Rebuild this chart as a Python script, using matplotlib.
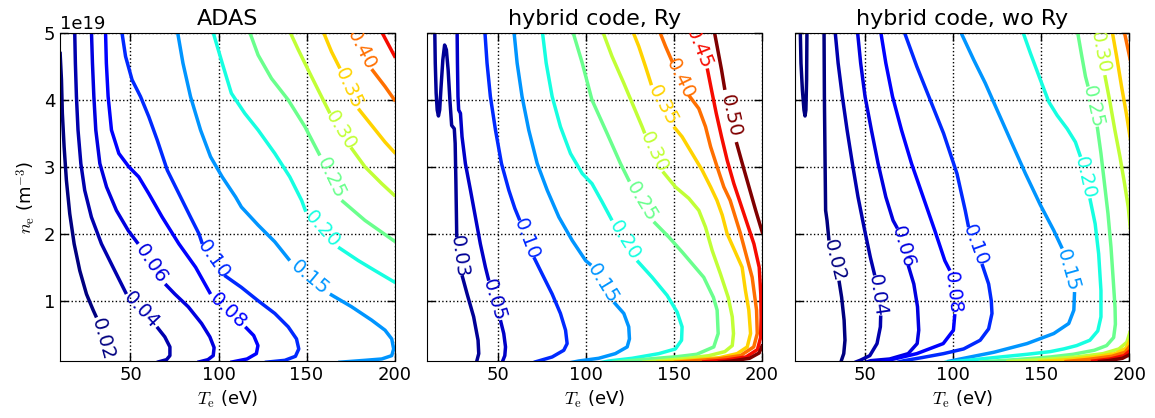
import numpy as np
import matplotlib
matplotlib.use("Agg")
from matplotlib import pyplot as plt
from matplotlib import colors

plt.rcParams['mathtext.fontset'] = 'cm'
plt.rcParams['font.family'] = 'DejaVu Sans'

nan = np.nan
NE_UNIT = 1e19

# traced contour lines, Te in eV, ne in 1e19 m^-3 (nan = gap for the inline label)

# --- ADAS ---
a02_te = [10.0, 10.8, 11.3, 12.3, 13.6, 15.5, 18.0, 21.2, 25.0, 28.8, 30.7, nan, 37.7]
a02_ne = [4.72, 4.30, 3.80, 3.30, 2.80, 2.30, 1.85, 1.45, 1.10, 0.86, 0.75, nan, 0.09]
a04_te = [18.3, 18.7, 19.3, 20.2, 21.8, 24.0, 27.8, 33.5, 40.1, 47.7, nan, 65.0, 69.5, 72.4, 72.4, 70.5, 65.0]
a04_ne = [5.05, 4.55, 4.05, 3.55, 3.05, 2.65, 2.25, 1.85, 1.50, 1.10, nan, 0.61, 0.46, 0.31, 0.18, 0.12, 0.08]
a06_te = [27.8, 28.4, 29.2, 30.3, 32.6, 36.4, 42.0, 48.7, 54.4, nan, 69.7, 75.2, 82.8, 90.4, 95.1, 97.5, 97.0, 94.0, 88.0]
a06_ne = [5.05, 4.55, 4.05, 3.55, 3.05, 2.70, 2.35, 2.05, 1.85, nan, 1.25, 1.10, 0.91, 0.66, 0.46, 0.30, 0.18, 0.12, 0.08]
a08_te = [35.8, 36.3, 37.3, 39.2, 43.4, 49.1, 54.7, 60.4, 68.0, 77.5, 87.0, 95.5, nan, 115.2, 120.0, 122.4, 121.5, 116.2, 106.7]
a08_ne = [5.05, 4.55, 4.05, 3.55, 3.20, 3.00, 2.85, 2.60, 2.25, 1.85, 1.50, 1.10, nan, 0.61, 0.48, 0.33, 0.21, 0.13, 0.08]
a10_te = [44.9, 47.2, 50.9, 55.7, 60.4, 65.2, 70.9, 77.5, 84.1, 88.9, 90.8, nan, 103.3, 113.0, 122.5, 132.0, 139.6, 144.3, 145.6, 143.7, 137.7, 126.3]
a10_ne = [5.05, 4.65, 4.30, 4.05, 3.75, 3.40, 2.95, 2.60, 2.25, 2.00, 1.85, nan, 1.38, 1.20, 1.00, 0.81, 0.61, 0.43, 0.28, 0.17, 0.11, 0.08]
a15_te = [76.5, 79.8, 84.1, 89.8, 95.5, 102.1, 109.7, 113.0, 122.5, 132.0, 140.5, nan, 163.3, 175.6, 187.0, 194.6, 198.4, 199.5, 198.4, 192.7, 183.2, 168.0]
a15_ne = [5.05, 4.55, 4.05, 3.55, 3.15, 2.85, 2.55, 2.40, 2.13, 1.88, 1.60, nan, 1.10, 0.91, 0.71, 0.56, 0.43, 0.28, 0.18, 0.13, 0.11, 0.08]
a20_te = [96.5, 102.1, 107.3, 114.9, 122.5, 132.0, 140.5, 147.2, 149.6, nan, 168.0, 179.4, 188.9, 200.5]
a20_ne = [5.05, 4.55, 4.10, 3.80, 3.55, 3.20, 2.85, 2.50, 2.33, nan, 1.80, 1.60, 1.45, 1.27]
a25_te = [117.2, 122.5, 130.1, 139.6, 149.1, 157.6, nan, 169.9, 183.2, 200.5]
a25_ne = [5.05, 4.67, 4.32, 4.00, 3.60, 3.17, nan, 2.50, 2.20, 1.88]
a30_te = [140.0, 145.3, 152.8, 160.4, 163.3, nan, 175.2, 183.2, 192.7, 200.5]
a30_ne = [5.05, 4.75, 4.35, 3.95, 3.80, nan, 3.29, 3.00, 2.75, 2.56]
a35_te = [159.0, 164.2, 169.0, nan, 179.4, 187.0, 194.6, 200.5]
a35_ne = [5.05, 4.72, 4.47, nan, 3.87, 3.62, 3.37, 3.20]
a40_te = [175.5, nan, 187.0, 194.6, 200.5]
a40_ne = [5.05, nan, 4.46, 4.20, 3.98]
a45_te = [192.0, 200.5]
a45_ne = [5.05, 4.63]

# --- hybrid code, Ry ---
r03_te = [14.2, 14.5, 15.0, 15.6, 16.3, 17.0, 17.8, 18.8, 19.8, 20.8, 21.8, 22.8, 23.8, 25.3, 25.8, 26.2, 26.5, 26.7, nan, 29.7, 32.6, 36.3, 38.8, 39.2, 37.9]
r03_ne = [5.05, 4.55, 4.10, 3.85, 3.76, 3.85, 4.20, 4.60, 4.82, 4.75, 4.45, 4.00, 3.62, 3.57, 3.35, 2.80, 2.30, 1.95, nan, 1.38, 1.10, 0.76, 0.41, 0.21, 0.08]
r05_te = [26.9, 27.1, 27.4, 27.8, 28.8, 29.7, 31.6, 34.5, 37.3, 40.1, 43.0, 44.9, nan, 51.5, 53.4, 54.4, 54.0, 52.5]
r05_ne = [5.05, 4.55, 4.05, 3.85, 3.80, 3.45, 3.05, 2.65, 2.25, 1.85, 1.50, 1.30, nan, 0.71, 0.51, 0.31, 0.18, 0.08]
r10_te = [42.6, 43.9, 45.8, 48.7, 52.1, 56.3, 59.7, 62.5, nan, 70.5, 75.2, 80.9, 85.6, 88.5, 89.4, 87.5, 80.9, 70.5]
r10_ne = [5.05, 4.55, 4.05, 3.55, 3.05, 2.65, 2.38, 2.20, nan, 1.65, 1.40, 1.10, 0.81, 0.56, 0.36, 0.26, 0.16, 0.08]
r15_te = [59.1, 61.0, 63.8, 67.6, 72.4, 78.1, 84.7, 92.3, 99.9, 103.1, nan, 115.9, 121.6, 124.4, 124.8, 123.5, 116.8, 107.3, 96.0, 90.3]
r15_ne = [5.05, 4.55, 4.05, 3.55, 3.05, 2.65, 2.25, 1.90, 1.60, 1.53, nan, 0.98, 0.81, 0.61, 0.43, 0.31, 0.21, 0.14, 0.10, 0.07]
r20_te = [75.2, 77.5, 80.9, 85.6, 91.3, 98.0, 103.5, 109.2, 114.9, nan, 129.1, 137.7, 146.2, 151.9, 154.7, 154.4, 150.9, 141.5, 126.3, 113.0, 107.3]
r20_ne = [5.05, 4.55, 4.05, 3.60, 3.20, 2.90, 2.75, 2.48, 2.20, nan, 1.60, 1.35, 1.08, 0.83, 0.61, 0.41, 0.28, 0.21, 0.14, 0.10, 0.07]
r25_te = [92.3, 98.0, 103.5, 112.1, 119.7, 124.8, nan, 138.6, 147.2, 155.0, 167.0, 172.5, 174.6, 175.2, 172.7, 163.0, 152.0, 138.0, 125.0, 115.0]
r25_ne = [5.05, 4.55, 4.00, 3.50, 3.05, 2.78, nan, 2.18, 1.95, 1.72, 1.35, 1.05, 0.86, 0.51, 0.31, 0.20, 0.165, 0.135, 0.105, 0.08]
r30_te = [109.2, 114.9, 121.6, 127.2, 132.0, 133.5, nan, 143.7, 150.9, 158.5, 164.2, 168.0, 171.8, 176.5, 180.9, 183.2, 183.9, 183.2, 179.0, 170.0, 158.0, 145.0, 132.0]
r30_ne = [5.05, 4.65, 4.25, 3.90, 3.60, 3.50, nan, 2.93, 2.70, 2.53, 2.35, 2.10, 1.75, 1.40, 1.05, 0.76, 0.51, 0.33, 0.24, 0.18, 0.14, 0.11, 0.08]
r35_te = [126.3, 130.1, 133.9, 137.3, nan, 150.0, 154.7, 160.4, 166.1, 170.9, 174.5, 177.5, 180.3, 188.8, 190.7, 192.6, 193.6, 191.7, 186.0, 176.0, 163.0, 150.0, 140.0]
r35_ne = [5.05, 4.80, 4.50, 4.22, nan, 3.60, 3.45, 3.20, 2.95, 2.70, 2.50, 2.28, 2.00, 1.50, 1.15, 0.86, 0.51, 0.31, 0.21, 0.15, 0.12, 0.095, 0.08]
r40_te = [141.5, 145.3, 149.1, nan, 158.5, 164.2, 168.0, 170.9, 174.6, 178.4, 182.0, 187.9, 194.5, 197.0, 197.4, 195.4, 187.9, 175.0, 160.0, 150.0]
r40_ne = [5.05, 4.80, 4.57, nan, 4.07, 3.87, 3.60, 3.30, 3.00, 2.70, 2.50, 2.00, 1.35, 0.86, 0.51, 0.31, 0.18, 0.13, 0.10, 0.08]
r45_te = [159.5, nan, 169.0, 171.4, 174.1, 177.1, 180.3, 184.1, 187.9, 191.7, 195.5, 198.5, 199.4, 199.6, 199.3, 197.5, 191.0, 180.0, 166.0]
r45_ne = [5.09, nan, 4.47, 4.15, 3.80, 3.45, 3.10, 2.75, 2.45, 2.15, 1.85, 1.50, 1.10, 0.75, 0.45, 0.27, 0.16, 0.115, 0.085]
r50_te = [172.8, 174.6, 177.1, 179.0, nan, 185.5, 188.9, 192.7, 196.5, 200.5]
r50_ne = [5.05, 4.80, 4.45, 4.15, nan, 3.37, 3.05, 2.70, 2.35, 2.00]
r50b_te = [200.5, 198.5, 193.0, 183.0, 175.0]
r50b_ne = [0.35, 0.22, 0.14, 0.10, 0.08]

# --- hybrid code, wo Ry ---
w02a_te = [13.0, 13.4, 14.2, 15.1, 15.7, 16.2, 16.6, 16.8]
w02a_ne = [5.05, 4.55, 4.15, 3.85, 3.76, 3.85, 4.30, 5.05]
w02_te = [26.5, 26.7, 27.1, 27.4, 28.2, 29.3, nan, 35.0, 36.5, 37.9, 38.4, 37.7, 36.0]
w02_ne = [5.05, 4.05, 3.05, 2.35, 2.20, 1.90, nan, 1.30, 1.05, 0.71, 0.41, 0.21, 0.08]
w04_te = [32.7, 34.5, 36.9, 39.6, 42.6, 45.8, 49.6, 52.8, 55.3, nan, 58.7, 58.5, 56.6, 52.5, 47.0, 44.0]
w04_ne = [5.05, 4.55, 4.05, 3.55, 3.05, 2.55, 2.05, 1.65, 1.38, nan, 0.78, 0.61, 0.36, 0.18, 0.11, 0.08]
w06_te = [45.4, 47.3, 49.8, 53.4, 57.2, 61.6, 65.7, 68.2, nan, 74.3, 77.5, 79.6, 80.3, 79.4, 74.3, 63.8, 53.0, 50.0]
w06_ne = [5.05, 4.55, 4.05, 3.55, 3.05, 2.55, 2.20, 2.08, nan, 1.53, 1.25, 0.91, 0.56, 0.36, 0.21, 0.13, 0.105, 0.08]
w08_te = [58.5, 61.6, 65.4, 70.5, 76.2, 82.8, 89.4, 95.1, 98.0, nan, 100.8, 100.0, 94.2, 79.2, 68.0, 62.0, 59.0]
w08_ne = [5.05, 4.55, 4.05, 3.55, 3.05, 2.55, 2.05, 1.60, 1.45, nan, 0.80, 0.56, 0.36, 0.21, 0.14, 0.105, 0.08]
w10_te = [71.6, 79.2, 86.8, 94.4, 102.0, 106.7, 108.6, nan, 116.2, 120.0, 121.5, 121.9, 120.0, 115.2, 105.8, 94.4, 82.0, 72.0, 68.0]
w10_ne = [5.05, 4.50, 4.00, 3.50, 2.90, 2.35, 2.10, nan, 1.55, 1.25, 1.00, 0.81, 0.58, 0.41, 0.28, 0.21, 0.15, 0.105, 0.08]
w15_te = [103.5, 111.5, 118.1, 124.8, 132.4, 140.9, 149.4, 157.0, 161.8, nan, 168.8, 168.4, 165.5, 157.0, 141.8, 122.9, 103.9, 96.3]
w15_ne = [5.05, 4.60, 4.25, 3.85, 3.40, 2.90, 2.43, 2.05, 1.78, nan, 1.13, 0.86, 0.66, 0.51, 0.36, 0.23, 0.13, 0.09]
w20_te = [139.0, 143.7, 149.4, 154.2, 158.9, 164.6, 169.3, 172.2, nan, 177.5, 180.5, 182.5, 183.8, 183.8, 182.0, 177.5, 170.0, 162.6, 155.0, 141.8, 122.9, 103.9, 95.0]
w20_ne = [5.05, 4.70, 4.30, 3.97, 3.77, 3.57, 3.37, 3.15, nan, 2.53, 2.15, 1.70, 1.15, 0.76, 0.55, 0.41, 0.33, 0.28, 0.24, 0.20, 0.15, 0.10, 0.08]
w25_te = [170.3, 172.6, 175.0, 176.5, nan, 181.7, 183.8, 185.8, 187.8, 189.5, 190.8, 191.8, 192.0, 191.0, 187.0, 180.0, 168.0, 155.0, 135.0, 115.0]
w25_ne = [5.05, 4.70, 4.35, 4.20, nan, 3.60, 3.20, 2.75, 2.30, 1.80, 1.30, 0.90, 0.65, 0.45, 0.33, 0.26, 0.20, 0.16, 0.12, 0.085]
w30_te = [181.0, nan, 186.0, 188.9, 191.7, 194.6, 197.2, 199.3, 200.6]
w30_ne = [5.07, nan, 4.37, 3.97, 3.55, 3.15, 2.75, 2.40, 2.05]
w30b_te = [200.5, 198.5, 194.0, 185.0, 170.0, 150.0, 130.0]
w30b_ne = [0.55, 0.38, 0.28, 0.21, 0.16, 0.12, 0.09]
w35_te = [190.0, 192.7, 195.5, 198.2, 200.6]
w35_ne = [5.05, 4.65, 4.20, 3.80, 3.40]
w35b_te = [200.5, 198.0, 192.0, 180.0, 165.0, 148.0]
w35b_ne = [0.42, 0.29, 0.21, 0.16, 0.12, 0.09]
w40_te = [196.8, 200.6]
w40_ne = [5.05, 4.58]
w40b_te = [200.5, 197.5, 190.0, 177.0, 163.0]
w40b_ne = [0.33, 0.23, 0.17, 0.125, 0.09]
w45b_te = [200.5, 197.0, 189.0, 178.0]
w45b_ne = [0.26, 0.18, 0.13, 0.095]
w50b_te = [200.5, 196.0, 188.0, 182.0]
w50b_ne = [0.20, 0.14, 0.105, 0.09]

titles = ['ADAS', 'hybrid code, Ry', 'hybrid code, wo Ry']
xticks = [50, 100, 150, 200]
yticks = [1, 2, 3, 4, 5]

panels = [
    [(0.02, a02_te, a02_ne), (0.04, a04_te, a04_ne), (0.06, a06_te, a06_ne),
     (0.08, a08_te, a08_ne), (0.10, a10_te, a10_ne), (0.15, a15_te, a15_ne),
     (0.20, a20_te, a20_ne), (0.25, a25_te, a25_ne), (0.30, a30_te, a30_ne),
     (0.35, a35_te, a35_ne), (0.40, a40_te, a40_ne), (0.45, a45_te, a45_ne)],
    [(0.03, r03_te, r03_ne), (0.05, r05_te, r05_ne), (0.10, r10_te, r10_ne),
     (0.15, r15_te, r15_ne), (0.20, r20_te, r20_ne), (0.25, r25_te, r25_ne),
     (0.30, r30_te, r30_ne), (0.35, r35_te, r35_ne), (0.40, r40_te, r40_ne),
     (0.45, r45_te, r45_ne), (0.50, r50_te, r50_ne), (0.50, r50b_te, r50b_ne)],
    [(0.02, w02a_te, w02a_ne), (0.02, w02_te, w02_ne), (0.04, w04_te, w04_ne),
     (0.06, w06_te, w06_ne), (0.08, w08_te, w08_ne), (0.10, w10_te, w10_ne),
     (0.15, w15_te, w15_ne), (0.20, w20_te, w20_ne), (0.25, w25_te, w25_ne),
     (0.30, w30_te, w30_ne), (0.30, w30b_te, w30b_ne), (0.35, w35_te, w35_ne),
     (0.35, w35b_te, w35b_ne), (0.40, w40_te, w40_ne), (0.40, w40b_te, w40b_ne),
     (0.45, w45b_te, w45b_ne), (0.50, w50b_te, w50b_ne)],
]

cmap = plt.get_cmap('jet')
norm = colors.Normalize(vmin=0.02, vmax=0.50)

fig = plt.figure(figsize=(11.55, 4.18), dpi=100)
lefts = [0.052, 0.370, 0.6883]

for k in range(3):
    ax = fig.add_axes([lefts[k], 0.1364, 0.2896, 0.7847])
    ax.set_xlim(10, 200)
    ax.set_ylim(0.1 * NE_UNIT, 5 * NE_UNIT)
    ax.set_xticks(xticks)
    ax.set_yticks([v * NE_UNIT for v in yticks])
    ax.tick_params(direction='in', top=True, right=True, length=6, width=1, labelsize=13)
    ax.grid(True, linestyle=':', color='k', linewidth=1)
    ax.set_axisbelow('line')
    ax.set_title(titles[k], fontsize=16)
    ax.set_xlabel(r'$T_{\rm e}$ (eV)', fontsize=13)
    if k == 0:
        ax.set_ylabel(r'$n_{\rm e}$ (m$^{-3}$)', fontsize=13)
        ax.yaxis.get_offset_text().set_fontsize(13)
    else:
        ax.tick_params(labelleft=False)

    for lev, te, ne in panels[k]:
        te = np.array(te, dtype=float)
        ne = np.array(ne, dtype=float) * NE_UNIT
        c = cmap(norm(lev))
        ax.plot(te, ne, color=c, lw=2.5, solid_capstyle='butt', solid_joinstyle='round')
        # inline labels sit in the gaps of the traced line
        for i in np.where(np.isnan(te))[0]:
            p0 = ax.transData.transform((te[i - 1], ne[i - 1]))
            p1 = ax.transData.transform((te[i + 1], ne[i + 1]))
            ang = np.degrees(np.arctan2(p1[1] - p0[1], p1[0] - p0[0]))
            if ang > 90:
                ang -= 180
            if ang < -90:
                ang += 180
            xm = 0.5 * (te[i - 1] + te[i + 1])
            ym = 0.5 * (ne[i - 1] + ne[i + 1])
            ax.text(xm, ym, f'{lev:.2f}', color=c, rotation=ang, ha='center', va='center',
                    rotation_mode='anchor', fontsize=14, clip_on=True)

fig.savefig('out.png', dpi=100)
